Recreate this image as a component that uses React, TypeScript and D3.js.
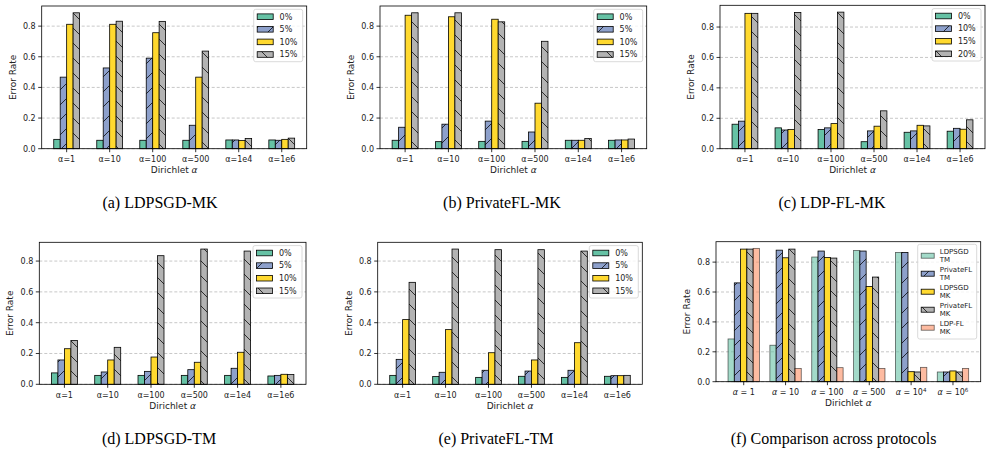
import * as d3 from "d3";

// x categories
const alphaTicks = ["α=1", "α=10", "α=100", "α=500", "α=1e4", "α=1e6"];
const compareBase = ["1", "10", "100", "500", "10", "10"];
const compareExp = ["", "", "", "", "4", "6"];
const yTicks = [0, 0.2, 0.4, 0.6, 0.8];

// legend labels
const poisonRates = ["0%", "5%", "10%", "15%"];
const ldpflRates = ["0%", "10%", "15%", "20%"];
const protocolNames = ["LDPSGD\nTM", "PrivateFL\nTM", "LDPSGD\nMK", "PrivateFL\nMK", "LDP-FL\nMK"];

// (a) LDPSGD-MK, one row per rate
const ldpsgdMK = [
    [0.061, 0.055, 0.055, 0.055, 0.057, 0.057],
    [0.467, 0.527, 0.591, 0.153, 0.057, 0.055],
    [0.812, 0.812, 0.757, 0.467, 0.053, 0.061],
    [0.887, 0.832, 0.831, 0.637, 0.067, 0.069],
];
// (b) PrivateFL-MK
const privateflMK = [
    [0.055, 0.046, 0.048, 0.048, 0.055, 0.055],
    [0.14, 0.16, 0.18, 0.109, 0.055, 0.057],
    [0.871, 0.861, 0.845, 0.297, 0.055, 0.057],
    [0.887, 0.887, 0.828, 0.701, 0.066, 0.063],
];
// (c) LDP-FL-MK
const ldpflMK = [
    [0.161, 0.137, 0.126, 0.046, 0.108, 0.115],
    [0.181, 0.123, 0.137, 0.117, 0.117, 0.134],
    [0.89, 0.126, 0.165, 0.148, 0.154, 0.128],
    [0.89, 0.895, 0.898, 0.249, 0.15, 0.19],
];
// (d) LDPSGD-TM
const ldpsgdTM = [
    [0.074, 0.058, 0.058, 0.058, 0.058, 0.054],
    [0.158, 0.08, 0.084, 0.095, 0.104, 0.058],
    [0.231, 0.158, 0.177, 0.143, 0.208, 0.065],
    [0.285, 0.24, 0.835, 0.878, 0.865, 0.063],
];
// (e) PrivateFL-TM
const privateflTM = [
    [0.058, 0.05, 0.045, 0.052, 0.045, 0.052],
    [0.162, 0.078, 0.091, 0.086, 0.091, 0.056],
    [0.42, 0.355, 0.205, 0.158, 0.27, 0.056],
    [0.662, 0.878, 0.874, 0.874, 0.865, 0.058],
];
// (f) comparison, one row per protocol
const comparison = [
    [0.286, 0.244, 0.834, 0.878, 0.865, 0.065],
    [0.661, 0.88, 0.874, 0.874, 0.865, 0.065],
    [0.887, 0.829, 0.831, 0.637, 0.067, 0.072],
    [0.887, 0.887, 0.827, 0.7, 0.065, 0.065],
    [0.892, 0.089, 0.094, 0.089, 0.096, 0.089],
];

const rateColors = ["#66c2a5", "#8da0cb", "#ffd92f", "#b3b3b3"];
const rateHatches = ["", "f", "", "b"];
const rateAlpha = [1, 1, 1, 1];
const protocolColors = ["#66c2a5", "#8da0cb", "#ffd92f", "#b3b3b3", "#fc8d62"];
const protocolHatches = ["", "f", "", "b", ""];
const protocolAlpha = [0.6, 1, 1, 1, 0.6];

type Box = { l: number; t: number; r: number; b: number };
type Leg = { w: number; h: number; first: number; row: number; fs: number; hw: number; top: number };

interface PanelProps {
    box: Box;
    series: number[][];
    names: string[];
    colors: string[];
    hatches: string[];
    alphas: number[];
    leg: Leg;
    math?: boolean;
    caption: string;
    capX: number;
    capY: number;
}

function Panel({ box, series, names, colors, hatches, alphas, leg, math, caption, capX, capY }: PanelProps) {
    const n = series.length;
    const bw = 0.15;
    const half = (n * bw) / 2;
    const last = alphaTicks.length - 1;
    const pad = 0.05 * (last + 2 * half);
    const x = d3.scaleLinear().domain([-half - pad, last + half + pad]).range([box.l, box.r]);
    const ymax = (d3.max(series.flat()) ?? 1) * 1.05;
    const y = d3.scaleLinear().domain([0, ymax]).range([box.b, box.t]);
    const fmt = d3.format(".1f");
    const groups = d3.range(alphaTicks.length);

    const lx = box.r - 4 - leg.w;
    const ly = box.t + leg.top;

    return (
        <g>
            {yTicks.map((t) => (
                <line key={"g" + t} x1={box.l} x2={box.r} y1={y(t)} y2={y(t)}
                    stroke="#b0b0b0" strokeWidth={0.7} strokeDasharray="3,2" />
            ))}
            {series.map((vals, i) =>
                vals.map((v, g) => {
                    const c = g + (i - (n - 1) / 2) * bw;
                    const x0 = x(c - bw / 2);
                    const w = x(c + bw / 2) - x0;
                    const y0 = y(v);
                    const h = y(0) - y0;
                    return (
                        <g key={i + "-" + g}>
                            <rect x={x0} y={y0} width={w} height={h} fill={colors[i]} fillOpacity={alphas[i]} />
                            {hatches[i] && (
                                <rect x={x0} y={y0} width={w} height={h} fill={`url(#hatch-${hatches[i]})`} />
                            )}
                            <rect x={x0} y={y0} width={w} height={h} fill="none" stroke="#000"
                                strokeOpacity={alphas[i]} strokeWidth={0.8} />
                        </g>
                    );
                })
            )}
            <rect x={box.l} y={box.t} width={box.r - box.l} height={box.b - box.t}
                fill="none" stroke="#000" strokeWidth={0.8} />
            {yTicks.map((t) => (
                <g key={"y" + t}>
                    <line x1={box.l - 3.5} x2={box.l} y1={y(t)} y2={y(t)} stroke="#000" strokeWidth={0.8} />
                    <text x={box.l - 6} y={y(t) + 2.9} fontSize={8} textAnchor="end" fill="#222">{fmt(t)}</text>
                </g>
            ))}
            {groups.map((g) => (
                <g key={"x" + g}>
                    <line x1={x(g)} x2={x(g)} y1={box.b} y2={box.b + 3.5} stroke="#000" strokeWidth={0.8} />
                    {math ? (
                        <text x={x(g)} y={box.b + 13.3} fontSize={8} textAnchor="middle" fill="#222">
                            <tspan fontStyle="italic">α</tspan>
                            {" = " + compareBase[g]}
                            {compareExp[g] && <tspan dy={-3.5} fontSize={5.6}>{compareExp[g]}</tspan>}
                        </text>
                    ) : (
                        <text x={x(g)} y={box.b + 13.3} fontSize={8} textAnchor="middle" fill="#222">{alphaTicks[g]}</text>
                    )}
                </g>
            ))}
            <text x={(box.l + box.r) / 2} y={box.b + 24.5} fontSize={9} textAnchor="middle" fill="#222">
                Dirichlet <tspan fontStyle="italic">α</tspan>
            </text>
            <text transform={`translate(${box.l - 26},${(box.t + box.b) / 2}) rotate(-90)`}
                fontSize={9} textAnchor="middle" fill="#222">Error Rate</text>
            <rect x={lx} y={ly} width={leg.w} height={leg.h} rx={2} fill="#fff" fillOpacity={0.8}
                stroke="#d0d0d0" strokeWidth={0.8} />
            {names.map((name, i) => {
                const cy = ly + leg.first + i * leg.row;
                const px = lx + 3.5;
                const ph = Math.max(leg.fs * 0.7, 5);
                const lines = name.split("\n");
                return (
                    <g key={"l" + i}>
                        <rect x={px} y={cy - ph / 2} width={leg.hw} height={ph} fill={colors[i]} fillOpacity={alphas[i]} />
                        {hatches[i] && (
                            <rect x={px} y={cy - ph / 2} width={leg.hw} height={ph} fill={`url(#hatch-${hatches[i]})`} />
                        )}
                        <rect x={px} y={cy - ph / 2} width={leg.hw} height={ph} fill="none" stroke="#000"
                            strokeOpacity={alphas[i]} strokeWidth={0.8} />
                        {lines.map((ln, k) => (
                            <text key={k} x={px + leg.hw + leg.fs * 0.8}
                                y={cy + leg.fs * 0.36 + (k - (lines.length - 1) / 2) * leg.fs * 1.15}
                                fontSize={leg.fs} fill="#222">{ln}</text>
                        ))}
                    </g>
                );
            })}
            <text x={capX} y={capY} fontSize={16} textAnchor="middle" fontFamily="'Liberation Serif', 'Times New Roman', serif"
                fill="#000">{caption}</text>
        </g>
    );
}

const mainLeg: Leg = { w: 49, h: 52.4, first: 7.4, row: 12.6, fs: 8, hw: 16, top: 3.3 };
const compLeg: Leg = { w: 59, h: 94.7, first: 11.4, row: 18, fs: 7, hw: 13, top: 2.6 };

export default function App() {
    return (
        <svg width={993} height={454} style={{ position: "absolute", left: 0, top: 0, background: "#fff" }}
            fontFamily="'DejaVu Sans', sans-serif">
            <defs>
                <pattern id="hatch-f" patternUnits="userSpaceOnUse" width={15} height={15}>
                    <path d="M-2,2 L2,-2 M0,15 L15,0 M13,17 L17,13" stroke="#000" strokeWidth={0.75} />
                </pattern>
                <pattern id="hatch-b" patternUnits="userSpaceOnUse" width={15} height={15}>
                    <path d="M-2,13 L2,17 M0,0 L15,15 M13,-2 L17,2" stroke="#000" strokeWidth={0.75} />
                </pattern>
            </defs>
            <Panel box={{ l: 41.7, t: 6, r: 306.7, b: 148.7 }} series={ldpsgdMK} names={poisonRates}
                colors={rateColors} hatches={rateHatches} alphas={rateAlpha} leg={mainLeg}
                caption="(a) LDPSGD-MK" capX={160} capY={208} />
            <Panel box={{ l: 380, t: 6, r: 646.7, b: 148.7 }} series={privateflMK} names={poisonRates}
                colors={rateColors} hatches={rateHatches} alphas={rateAlpha} leg={mainLeg}
                caption="(b) PrivateFL-MK" capX={502} capY={208} />
            <Panel box={{ l: 720, t: 5.3, r: 985, b: 148.7 }} series={ldpflMK} names={ldpflRates}
                colors={rateColors} hatches={rateHatches} alphas={rateAlpha} leg={mainLeg}
                caption="(c) LDP-FL-MK" capX={832} capY={208} />
            <Panel box={{ l: 39.3, t: 242.3, r: 306, b: 384.3 }} series={ldpsgdTM} names={poisonRates}
                colors={rateColors} hatches={rateHatches} alphas={rateAlpha} leg={mainLeg}
                caption="(d) LDPSGD-TM" capX={159} capY={444} />
            <Panel box={{ l: 377.7, t: 242.3, r: 642.3, b: 384.3 }} series={privateflTM} names={poisonRates}
                colors={rateColors} hatches={rateHatches} alphas={rateAlpha} leg={mainLeg}
                caption="(e) PrivateFL-TM" capX={496} capY={444} />
            <Panel box={{ l: 716, t: 241.7, r: 980.7, b: 381.7 }} series={comparison} names={protocolNames}
                colors={protocolColors} hatches={protocolHatches} alphas={protocolAlpha} leg={compLeg} math
                caption="(f) Comparison across protocols" capX={833.5} capY={444} />
        </svg>
    );
}
